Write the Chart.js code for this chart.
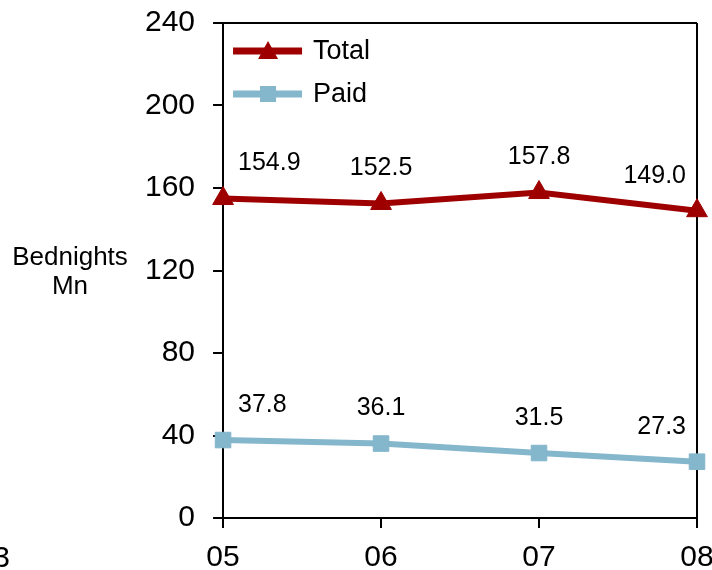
<!DOCTYPE html>
<html>
<head>
<meta charset="utf-8">
<script src="https://cdn.jsdelivr.net/npm/chart.js@4/dist/chart.umd.min.js"></script>
<style>
html,body{margin:0;padding:0;background:#fff;overflow:hidden;width:712px;height:570px;}
#c{position:absolute;left:0;top:-13px;}
</style>
</head>
<body>
<canvas id="c" width="740" height="606"></canvas>
<script>
const categories = ['05', '06', '07', '08'];
const totalValues = [154.9, 152.5, 157.8, 149.0];
const paidValues = [37.8, 36.1, 31.5, 27.3];
const yTicks = [0, 40, 80, 120, 160, 200, 240];
const seriesNames = ['Total', 'Paid'];
const axisTitle = ['Bednights', 'Mn'];
const strayLabel = '03';

const RED = '#9E0000';
const BLUE = '#84B6CC';
const FONT = '"Liberation Sans", Arial, sans-serif';
const DY = 13; // canvas is shifted up by this much

const labelPlugin = {
  id: 'labels',
  afterDatasetsDraw(chart) {
    const ctx = chart.ctx;
    ctx.save();
    ctx.fillStyle = '#000';
    ctx.font = '25px ' + FONT;
    ctx.textBaseline = 'middle';
    chart.data.datasets.forEach((ds, di) => {
      const meta = chart.getDatasetMeta(di);
      meta.data.forEach((pt, i) => {
        const txt = ds.data[i].toFixed(1);
        let x = pt.x;
        if (i === 0) { ctx.textAlign = 'left'; x += 15; }
        else if (i === ds.data.length - 1) { ctx.textAlign = 'right'; x -= 11; }
        else { ctx.textAlign = 'center'; }
        ctx.fillText(txt, x, pt.y - 35);
      });
    });
    // legend
    const ca = chart.chartArea;
    const lx = ca.left + 10;
    const rows = [ca.top + 28, ca.top + 71];
    chart.data.datasets.forEach((ds, di) => {
      const y = rows[di];
      ctx.strokeStyle = ds.borderColor;
      ctx.lineWidth = 7;
      ctx.beginPath();
      ctx.moveTo(lx, y);
      ctx.lineTo(lx + 69, y);
      ctx.stroke();
      ctx.fillStyle = ds.borderColor;
      const cx = lx + 35;
      ctx.beginPath();
      if (di === 0) {
        ctx.moveTo(cx, y - 10);
        ctx.lineTo(cx + 10, y + 8);
        ctx.lineTo(cx - 10, y + 8);
        ctx.closePath();
      } else {
        ctx.rect(cx - 8, y - 8, 16, 16);
      }
      ctx.fill();
      ctx.fillStyle = '#000';
      ctx.font = '27px ' + FONT;
      ctx.textAlign = 'left';
      ctx.textBaseline = 'middle';
      ctx.fillText(seriesNames[di], lx + 80, y + 1);
    });
    // axis title
    ctx.font = '26px ' + FONT;
    ctx.textAlign = 'center';
    ctx.textBaseline = 'alphabetic';
    ctx.fillText(axisTitle[0], 70, 265 + DY);
    ctx.fillText(axisTitle[1], 70, 294 + DY);
    // stray cut label from neighbouring chart
    ctx.font = '30px ' + FONT;
    ctx.textAlign = 'right';
    ctx.fillText(strayLabel, 10, 567 + DY);
    ctx.restore();
  }
};

new Chart(document.getElementById('c'), {
  type: 'line',
  data: {
    labels: categories,
    datasets: [
      {
        label: seriesNames[0], data: totalValues,
        borderColor: RED, backgroundColor: RED,
        borderWidth: 6, pointStyle: 'triangle', pointRadius: 12,
        pointBorderWidth: 1, pointBorderColor: RED, pointBackgroundColor: RED,
        tension: 0, clip: false
      },
      {
        label: seriesNames[1], data: paidValues,
        borderColor: BLUE, backgroundColor: BLUE,
        borderWidth: 6, pointStyle: 'rect', pointRadius: 11,
        pointBorderWidth: 1, pointBorderColor: BLUE, pointBackgroundColor: BLUE,
        tension: 0, clip: false
      }
    ]
  },
  options: {
    responsive: false,
    animation: false,
    devicePixelRatio: 1,
    layout: { padding: { left: 127, right: 43, top: 5, bottom: 5 } },
    plugins: { legend: { display: false }, tooltip: { enabled: false } },
    scales: {
      x: {
        offset: false,
        border: { color: '#000', width: 2 },
        grid: {
          color: c => (c.index === categories.length - 1 ? '#000' : 'rgba(0,0,0,0)'),
          lineWidth: 2, tickColor: '#000', tickLength: 10, drawOnChartArea: true
        },
        ticks: { color: '#000', font: { family: FONT, size: 30 }, padding: 12, maxRotation: 0 }
      },
      y: {
        min: 0, max: 240,
        afterBuildTicks: s => { s.ticks = yTicks.map(v => ({ value: v })); },
        border: { color: '#000', width: 2 },
        grid: {
          color: c => (c.tick && c.tick.value === 240 ? '#000' : 'rgba(0,0,0,0)'),
          lineWidth: 2, tickColor: '#000', tickLength: 10, drawOnChartArea: true
        },
        ticks: { color: '#000', font: { family: FONT, size: 30 }, padding: 18 }
      }
    }
  },
  plugins: [labelPlugin]
});
</script>
</body>
</html>
